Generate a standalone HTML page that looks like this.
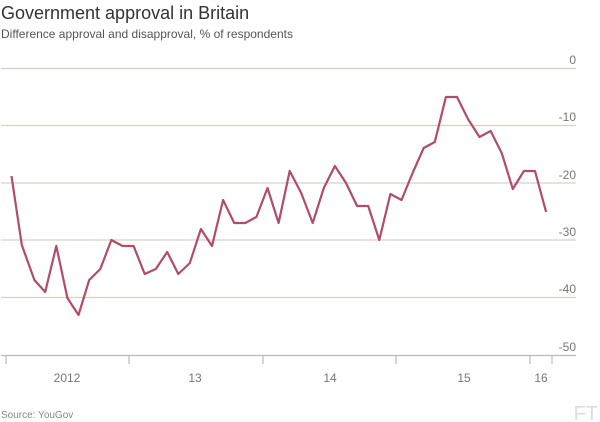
<!DOCTYPE html>
<html><head><meta charset="utf-8"><style>
html,body{margin:0;padding:0;background:#fff;width:600px;height:422px;overflow:hidden}
svg{display:block}
text{font-family:"Liberation Sans",sans-serif}
</style></head><body>
<svg width="600" height="422" viewBox="0 0 600 422">
<text x="1" y="19" font-size="18" fill="#333">Government approval in Britain</text>
<text x="1" y="38" font-size="12" fill="#555">Difference approval and disapproval, % of respondents</text>
<g stroke="#d8d0c6" stroke-width="1.2">
<line x1="1" x2="576" y1="68.5" y2="68.5"/>
<line x1="1" x2="576" y1="125.5" y2="125.5"/>
<line x1="1" x2="576" y1="183" y2="183"/>
<line x1="1" x2="576" y1="240" y2="240"/>
<line x1="1" x2="576" y1="297.5" y2="297.5"/>
</g>
<g stroke="#bbb" stroke-width="1.2">
<line x1="1" x2="576" y1="355.5" y2="355.5"/>
<line x1="6" x2="6" y1="355" y2="364"/>
<line x1="129" x2="129" y1="355" y2="364"/>
<line x1="263" x2="263" y1="355" y2="364"/>
<line x1="396" x2="396" y1="355" y2="364"/>
<line x1="530" x2="530" y1="355" y2="364"/>
<line x1="552" x2="552" y1="355" y2="364"/>
</g>
<g font-size="12" fill="#777" text-anchor="end">
<text x="576" y="64">0</text>
<text x="576" y="121">-10</text>
<text x="576" y="179">-20</text>
<text x="576" y="236">-30</text>
<text x="576" y="293">-40</text>
<text x="576" y="351">-50</text>
</g>
<g font-size="12" fill="#777" text-anchor="middle">
<text x="67" y="382">2012</text>
<text x="195" y="382">13</text>
<text x="330" y="382">14</text>
<text x="464" y="382">15</text>
<text x="541" y="382">16</text>
</g>
<text x="1" y="418" font-size="10" fill="#888">Source: YouGov</text>
<text x="598" y="420" font-size="20" fill="#ddd" text-anchor="end" font-family="Liberation Serif,serif">FT</text>
<polyline fill="none" stroke="#b04c6c" stroke-width="2.2" stroke-linejoin="round" points="11.5,176 21.8,245 34.4,280 45.2,292 56.3,246 67.4,298 78.5,315 89.2,280 100.3,269 111.4,240 122.5,246 133.6,246 144.7,274 155.8,269 167.2,252 178.3,274 189.8,263 200.9,229 212,246 223.1,200 234.2,223 245.3,223 256.4,217 267.5,188 278.6,223 289.7,171 301.2,193 312.7,223 323.8,188 334.9,166 346,183 357.1,206 368.2,206 379.3,240 390.4,194 401.5,200 412.6,173 423.7,148 434.8,142 445.9,97 457,97 468,119 479.5,137 490.6,131 501.7,153 512.8,189 523.9,171 535,171 546.1,212"/>
</svg>
</body></html>
